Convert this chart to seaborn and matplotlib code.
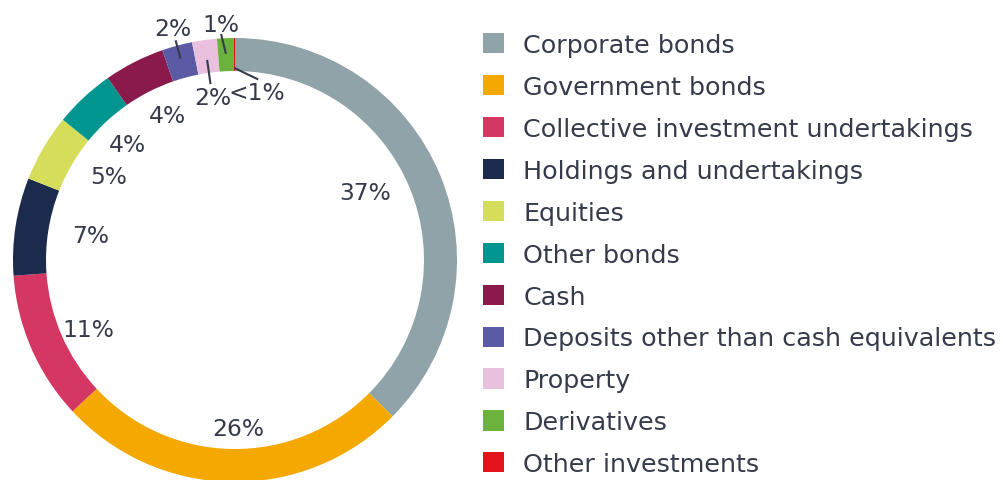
import numpy as np
import matplotlib
matplotlib.use("Agg")
import matplotlib.pyplot as plt
from matplotlib.patches import Patch
import seaborn as sns

# Asset allocation shares (%), clockwise from 12 o'clock
categories = [
    "Corporate bonds",
    "Government bonds",
    "Collective investment undertakings",
    "Holdings and undertakings",
    "Equities",
    "Other bonds",
    "Cash",
    "Deposits other than cash equivalents",
    "Property",
    "Derivatives",
    "Other investments",
]
shares = [37.4, 25.6, 10.8, 7.1, 4.9, 4.4, 4.4, 2.2, 1.8, 1.2, 0.1]
share_labels = ["37%", "26%", "11%", "7%", "5%", "4%", "4%", "2%", "2%", "1%", "<1%"]
colors = [
    "#8fa3a8", "#f4a800", "#d33762", "#1c2a4e", "#d5dd5b", "#00958f",
    "#8a1a4c", "#5a5ba4", "#e9c0de", "#6bb33c", "#e3131b",
]

# label placement: (radius in ring units, angular shift in degrees, leader line r0, r1)
label_layout = [
    (0.66, -5, None, None),
    (0.76, -2, None, None),
    (0.73, -2, None, None),
    (0.66, 1, None, None),
    (0.68, 3, None, None),
    (0.71, 0, None, None),
    (0.72, 2, None, None),
    (1.08, 0, 0.94, 1.025),
    (0.74, 0, 0.91, 0.80),
    (1.065, -1, 0.93, 1.02),
    (0.76, 7.5, 0.865, 0.82),
]

TEXT = "#363b4b"

sns.set_theme(style="white")
plt.rcParams["font.family"] = ["DejaVu Sans"]

W, H = 1004, 481
fig = plt.figure(figsize=(W / 100, H / 100), dpi=100)
fig.patch.set_facecolor("white")

cx, cy, R = 235, 261, 222
ax = fig.add_axes([(cx - R) / W, (H - cy - R) / H, 2 * R / W, 2 * R / H])

palette = sns.color_palette(colors)
wedges, _ = ax.pie(
    shares,
    colors=palette,
    startangle=90,
    counterclock=False,
    radius=1.0,
    wedgeprops=dict(width=33 / R, linewidth=0),
)
ax.set_xlim(-1, 1)
ax.set_ylim(-1, 1)
ax.set_aspect("equal")
ax.axis("off")

fs = 16.8
for w, lab, (r, dth, r0, r1) in zip(wedges, share_labels, label_layout):
    mid = np.deg2rad((w.theta1 + w.theta2) / 2)
    ang = mid + np.deg2rad(-dth)
    tx, ty = r * np.cos(ang), r * np.sin(ang)
    ax.text(tx, ty, lab, ha="center", va="center", fontsize=fs, color=TEXT,
            clip_on=False)
    if r0 is not None:
        # leader line starts on the wedge, ends toward the text
        x0, y0 = r0 * np.cos(mid), r0 * np.sin(mid)
        x1, y1 = r1 * np.cos(ang), r1 * np.sin(ang)
        ax.plot([x0, x1], [y0, y1], color=TEXT, lw=1.5,
                solid_capstyle="butt", clip_on=False)

lfs = 18.3
handles = [Patch(facecolor=c, edgecolor="none") for c in palette]
fig.legend(
    handles,
    categories,
    loc="upper left",
    bbox_to_anchor=(483 / W, 1 - 34 / H),
    frameon=False,
    fontsize=lfs,
    handlelength=0.84,
    handleheight=0.84,
    handletextpad=0.75,
    labelspacing=0.705,
    labelcolor=TEXT,
    borderaxespad=0,
    borderpad=0,
)

fig.savefig("out.png", dpi=100, facecolor="white")
